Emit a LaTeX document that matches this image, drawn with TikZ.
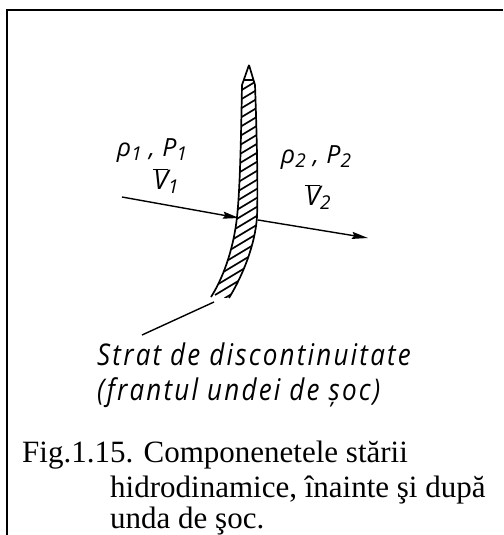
\documentclass[tikz,border=0pt]{standalone}
\usepackage{fontspec}
\setmainfont{Liberation Serif}
\newfontfamily\hand{Open Sans}[LetterSpace=8.5]
\newfontfamily\handl{Open Sans}[LetterSpace=3]
\usetikzlibrary{arrows.meta}
\newcommand{\sbs}[1]{\raisebox{-4pt}{\fontsize{19}{19}\selectfont #1}}
\tikzset{
  frameline/.style={line width=1.8pt},
  edgeline/.style={line width=1.7pt, line join=round},
  hatchline/.style={line width=1.7pt},
  flowarrow/.style={line width=1.4pt, -{Stealth[length=16pt,width=7pt,inset=2pt]}},
  handlbl/.style={inner sep=0pt, font=\handl\itshape\fontsize{25}{28}\selectfont},
  handtxt/.style={inner sep=0pt, anchor=base west, font=\hand\itshape\fontsize{26}{30}\selectfont},
  captxt/.style={inner sep=0pt, anchor=base west, font=\fontsize{31}{33}\selectfont},
}
\begin{document}
\begin{tikzpicture}[x=1pt,y=-1pt]
\useasboundingbox (0,0) rectangle (503,535);
% frame
\draw[frameline] (7,535) -- (7,10) -- (503,10);
% shock layer
\coordinate (tip) at (249,65);
\def\bandpath{(tip) -- (242,85) .. controls (241,140) and (240,190) .. (237,217) .. controls (234,245) and (225,275) .. (211,297)
  -- (229,298) .. controls (243,275) and (255,245) .. (257,217) .. controls (258,190) and (257,140) .. (255,85) -- cycle}
\begin{scope}
  \clip \bandpath;
  \foreach \k in {0,...,25}{
    \draw[hatchline] (215,{92+9*\k+14}) -- (275,{92+9*\k-22});
  }
\end{scope}
\draw[edgeline] (tip) -- (242,85) .. controls (241,140) and (240,190) .. (237,217) .. controls (234,245) and (225,275) .. (211,297);
\draw[edgeline] (tip) -- (255,85) .. controls (257,140) and (258,190) .. (257,217) .. controls (255,245) and (243,275) .. (229,298);
\draw[edgeline] (243,80) -- (254,80);
% leader
\coordinate (lead1) at (214,302);
\coordinate (lead2) at (142,335);
\draw[line width=1.4pt] (lead1) -- (lead2);
% arrows
\coordinate (a1s) at (122,197);
\coordinate (a1e) at (239,218);
\coordinate (a2s) at (258,220);
\coordinate (a2e) at (368,238);
\draw[flowarrow] (a1s) -- (a1e);
\draw[flowarrow] (a2s) -- (a2e);
% labels
\node[handlbl] (l1) at (152,151) {ρ\sbs{1} , P\sbs{1}};
\node[handlbl] (v1) at (166,181) {$\overline{\hbox{\handl\itshape\fontsize{27}{30}\selectfont V}}$\sbs{1}};
\node[handlbl] (l2) at (316,158) {ρ\sbs{2} , P\sbs{2}};
\node[handlbl] (v2) at (318,197) {$\overline{\hbox{\handl\itshape\fontsize{27}{30}\selectfont V}}$\sbs{2}};
% description
\node[handtxt] (s1) at (97,365) {\scalebox{1}[1.15]{Strat de discontinuitate}};
\node[handtxt] (s2) at (97,400) {\scalebox{1}[1.15]{(frantul undei de șoc)}};
% caption
\node[captxt] (c1) at (22,462) {Fig.1.15. Componenetele stării};
\node[captxt] (c2) at (110,497) {hidrodinamice, înainte şi după};
\node[captxt] (c3) at (110,528) {unda de şoc.};
\end{tikzpicture}
\end{document}
